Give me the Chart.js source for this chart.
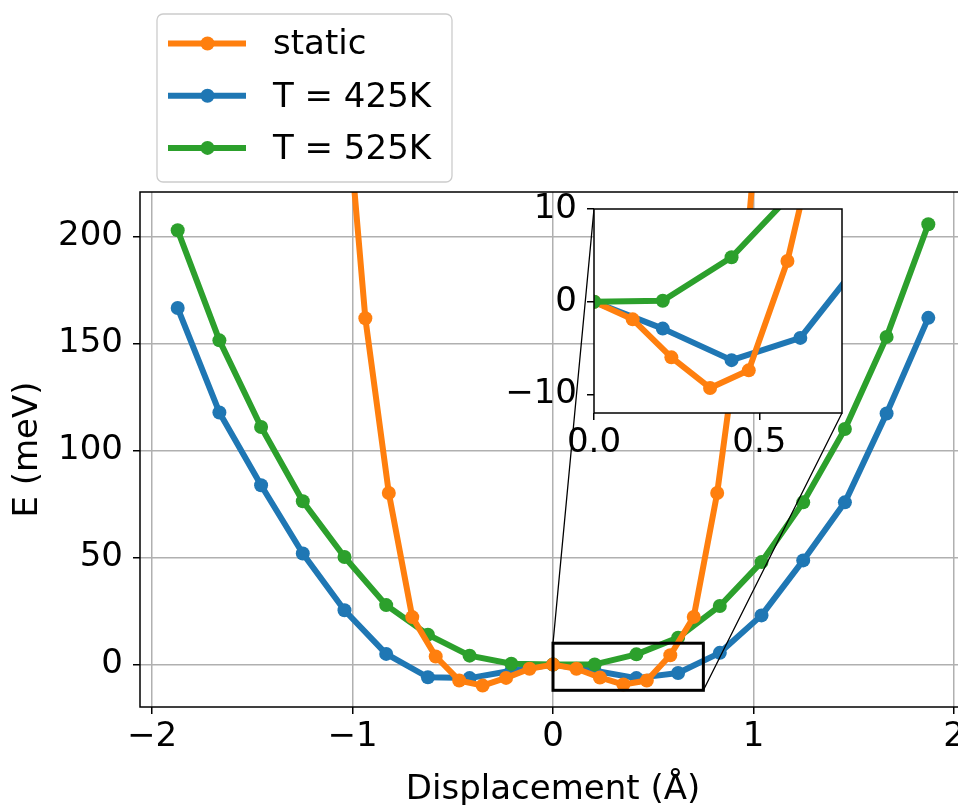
<!DOCTYPE html>
<html>
<head>
<meta charset="utf-8">
<script src="https://cdn.jsdelivr.net/npm/chart.js@4.4.1/dist/chart.umd.min.js"></script>
<style>
  html, body { margin: 0; padding: 0; background: #fff; overflow: hidden; }
  #wrap { position: relative; width: 958px; height: 805px; overflow: hidden; }
  #main { position: absolute; left: 0; top: 0; }
  #inset { position: absolute; }
</style>
</head>
<body>
<div id="wrap">
  <canvas id="main" width="1000" height="805"></canvas>
  <canvas id="inset"></canvas>
</div>
<script>
// displacement grid of the finite-temperature runs (Å)
const xTemp = [-1.872, -1.664, -1.456, -1.248, -1.04, -0.832, -0.624, -0.416, -0.208, 0,
  0.208, 0.416, 0.624, 0.832, 1.04, 1.248, 1.456, 1.664, 1.872];
const eT425 = [166.6, 117.8, 83.8, 51.9, 25.4, 5.0, -5.9, -6.3, -2.9, 0,
  -2.9, -6.3, -3.9, 5.5, 23.0, 48.7, 75.8, 117.3, 162.0];
const eT525 = [202.9, 151.5, 111.0, 76.3, 50.3, 27.8, 14.0, 4.2, 0.4, 0,
  0.1, 4.8, 12.6, 27.4, 47.9, 75.8, 110.1, 153.1, 205.7];

// static (frozen lattice) scan, finer grid
const xStatic = [-1.053, -0.936, -0.819, -0.702, -0.585, -0.468, -0.351, -0.234, -0.117, 0,
  0.117, 0.234, 0.351, 0.468, 0.585, 0.702, 0.819, 0.936, 1.053];
const eStatic = [290, 161.8, 80.2, 22.2, 3.8, -7.4, -9.8, -6.2, -1.9, 0,
  -1.9, -6.0, -9.3, -7.4, 4.4, 22.3, 80.2, 161.8, 290];

const seriesLabels = ['static', 'T = 425K', 'T = 525K'];
const seriesColors = ['#ff7f0e', '#1f77b4', '#2ca02c'];

const xTicks = [-2, -1, 0, 1, 2];
const yTicks = [0, 50, 100, 150, 200];
const xRange = [-2.06, 2.06];
const yRange = [-19.8, 220.8];

const insetXTicks = [0, 0.5];
const insetYTicks = [-10, 0, 10];
const insetXRange = [0, 0.75];
const insetYRange = [-12, 10];

// inset placement in axes fraction: left, bottom, width, height
const insetFrac = [0.55, 0.57, 0.30, 0.397];

const FONT = { family: "'DejaVu Sans'", size: 34 };
const minus = (s) => String(s).replace('-', '\u2212');

function makeDatasets(orders) {
  const src = [[xStatic, eStatic], [xTemp, eT425], [xTemp, eT525]];
  return src.map(([xs, ys], i) => ({
    label: seriesLabels[i],
    data: xs.map((x, k) => ({ x, y: ys[k] })),
    borderColor: seriesColors[i],
    backgroundColor: seriesColors[i],
    borderWidth: 6,
    pointRadius: 7,
    pointHoverRadius: 7,
    pointBorderWidth: 0,
    borderJoinStyle: 'round',
    tension: 0,
    clip: 0,
    order: orders[i],
  }));
}

function insetBox(ca) {
  const w = ca.right - ca.left, h = ca.bottom - ca.top;
  const [fl, fb, fw, fh] = insetFrac;
  return {
    left: Math.round(ca.left + fl * w),
    right: Math.round(ca.left + (fl + fw) * w),
    top: Math.round(ca.bottom - (fb + fh) * h),
    bottom: Math.round(ca.bottom - fb * h),
  };
}

function axisStyle(ticks, fmt, pad) {
  return {
    type: 'linear',
    afterBuildTicks: (s) => { s.ticks = ticks.map((v) => ({ value: v })); },
    ticks: { font: FONT, color: '#000', padding: pad, callback: fmt, maxRotation: 0, autoSkip: false },
    grid: { color: '#b0b0b0', lineWidth: 1.5, tickColor: '#000', tickLength: 7, tickWidth: 1.5 },
    border: { display: false },
  };
}

const frame = {
  id: 'frame',
  afterDatasetsDraw(chart) {
    const { ctx, chartArea: ca } = chart;
    ctx.save();
    ctx.strokeStyle = '#000';
    ctx.lineWidth = 1.5;
    ctx.strokeRect(ca.left, ca.top, ca.right - ca.left, ca.bottom - ca.top);
    ctx.restore();
  },
};

// zoom rectangle plus the two connector lines to the inset corners
const zoomMarks = {
  id: 'zoomMarks',
  afterDatasetsDraw(chart) {
    const { ctx, scales: { x, y } } = chart;
    const box = insetBox(chart.chartArea);
    const x0 = x.getPixelForValue(insetXRange[0]), x1 = x.getPixelForValue(insetXRange[1]);
    const y0 = y.getPixelForValue(insetYRange[1]), y1 = y.getPixelForValue(insetYRange[0]);
    ctx.save();
    ctx.strokeStyle = '#000';
    ctx.lineWidth = 1.3;
    ctx.beginPath();
    ctx.moveTo(x0, y0); ctx.lineTo(box.left, box.top);
    ctx.moveTo(x1, y1); ctx.lineTo(box.right, box.bottom);
    ctx.stroke();
    ctx.lineWidth = 3;
    ctx.strokeRect(x0, y0, x1 - x0, y1 - y0);
    ctx.restore();
  },
};

const boxLegend = {
  id: 'boxLegend',
  afterDraw(chart) {
    const { ctx, chartArea: ca } = chart;
    const left = ca.left + 17, top = 14, w = 295, h = 168, r = 6;
    ctx.save();
    ctx.beginPath();
    ctx.roundRect(left, top, w, h, r);
    ctx.fillStyle = 'rgba(255,255,255,0.8)';
    ctx.fill();
    ctx.strokeStyle = '#cccccc';
    ctx.lineWidth = 1.3;
    ctx.stroke();
    ctx.font = `34px ${FONT.family}`;
    ctx.textBaseline = 'middle';
    chart.data.datasets.forEach((ds, i) => {
      const cy = top + 29.5 + i * 52.2;
      ctx.strokeStyle = ds.borderColor;
      ctx.lineWidth = ds.borderWidth;
      ctx.beginPath();
      ctx.moveTo(left + 11, cy);
      ctx.lineTo(left + 89, cy);
      ctx.stroke();
      ctx.fillStyle = ds.borderColor;
      ctx.beginPath();
      ctx.arc(left + 50.5, cy, ds.pointRadius, 0, Math.PI * 2);
      ctx.fill();
      ctx.fillStyle = '#000';
      ctx.fillText(ds.label, left + 116, cy + 2);
    });
    ctx.restore();
  },
};

const xMain = axisStyle(xTicks, (v) => minus(v), 3);
Object.assign(xMain, {
  min: xRange[0], max: xRange[1],
  title: { display: true, text: 'Displacement (Å)', color: '#000', font: { ...FONT, lineHeight: 1 }, padding: { top: 0, bottom: -2 } },
  afterFit: (s) => { s.height = 98; },
});
const yMain = axisStyle(yTicks, (v) => minus(v), 10);
Object.assign(yMain, {
  min: yRange[0], max: yRange[1],
  title: { display: true, text: 'E (meV)', color: '#000', font: { ...FONT, lineHeight: 1 }, padding: { top: 11, bottom: 0 } },
  afterFit: (s) => { s.width = 140; },
});

const mainChart = new Chart(document.getElementById('main'), {
  type: 'line',
  data: { datasets: makeDatasets([0, 2, 1]) },
  options: {
    responsive: false,
    animation: false,
    layout: { padding: { left: 0, top: 192, right: 34, bottom: 0 } },
    plugins: { legend: { display: false }, tooltip: { enabled: false } },
    scales: { x: xMain, y: yMain },
  },
  plugins: [zoomMarks, frame, boxLegend],
});

// inset: same curves, zoomed near the origin
const box = insetBox(mainChart.chartArea);
const PAD = { l: 100, t: 40, r: 20, b: 60 };
const insetCanvas = document.getElementById('inset');
insetCanvas.width = box.right - box.left + PAD.l + PAD.r;
insetCanvas.height = box.bottom - box.top + PAD.t + PAD.b;
insetCanvas.style.left = (box.left - PAD.l) + 'px';
insetCanvas.style.top = (box.top - PAD.t) + 'px';

const whiteArea = {
  id: 'whiteArea',
  beforeDraw(chart) {
    const { ctx, chartArea: ca } = chart;
    ctx.save();
    ctx.fillStyle = '#fff';
    ctx.fillRect(ca.left, ca.top, ca.right - ca.left, ca.bottom - ca.top);
    ctx.restore();
  },
};

const xIn = axisStyle(insetXTicks, (v) => v.toFixed(1), 3);
Object.assign(xIn, { min: insetXRange[0], max: insetXRange[1], afterFit: (s) => { s.height = PAD.b; } });
xIn.grid.drawOnChartArea = false;
const yIn = axisStyle(insetYTicks, (v) => minus(v), 10);
Object.assign(yIn, { min: insetYRange[0], max: insetYRange[1], afterFit: (s) => { s.width = PAD.l; } });
yIn.grid.drawOnChartArea = false;

new Chart(insetCanvas, {
  type: 'line',
  data: { datasets: makeDatasets([1, 2, 0]) },
  options: {
    responsive: false,
    animation: false,
    layout: { padding: { left: 0, top: PAD.t, right: PAD.r, bottom: 0 } },
    plugins: { legend: { display: false }, tooltip: { enabled: false } },
    scales: { x: xIn, y: yIn },
  },
  plugins: [whiteArea, frame],
});
</script>
</body>
</html>
